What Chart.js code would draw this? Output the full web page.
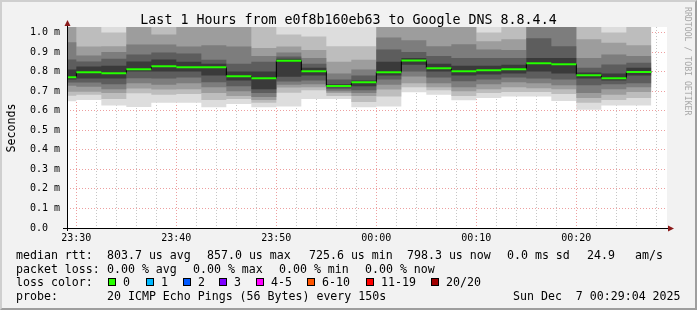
<!DOCTYPE html>
<html><head><meta charset="utf-8">
<script src="https://cdn.jsdelivr.net/npm/chart.js@4.4.1/dist/chart.umd.min.js"></script>
<style>
html,body{margin:0;padding:0;background:#f2f2f2;}
#wrap{position:relative;width:697px;height:310px;overflow:hidden;background:#f2f2f2;font-family:'DejaVu Sans Mono',monospace;color:#000;}
#c{position:absolute;left:0;top:0;}
.t{position:absolute;white-space:pre;font-size:11.6px;line-height:14px;}
.box{position:absolute;width:8px;height:8px;box-sizing:border-box;border:1px solid #000;}
#frame{position:absolute;left:0;top:0;width:697px;height:310px;box-sizing:border-box;border-top:2px solid #cfcfcf;border-left:2px solid #cfcfcf;border-right:2px solid #9e9e9e;border-bottom:2px solid #9e9e9e;pointer-events:none;}
</style></head>
<body>
<div id="wrap">
<canvas id="c" width="697" height="310"></canvas>
<div class="t" style="left:0;width:697px;text-align:center;top:11.5px;font-size:13.3px;line-height:16px;">Last 1 Hours from e0f8b160eb63 to Google DNS 8.8.4.4</div>
<div class="t" style="left:-39.5px;top:121px;width:100px;text-align:center;transform:rotate(-90deg);">Seconds</div>
<div class="t" style="left:638px;top:52px;width:100px;text-align:center;font-size:8.2px;line-height:10px;color:#a6a6a6;transform:rotate(90deg);">RRDTOOL / TOBI OETIKER</div>
<div id="legend"></div>
<div id="frame"></div>
</div>
<script>
// ---- data ----
const intervalStarts = ['23:29:04','23:30:00','23:32:30','23:35:00','23:37:30','23:40:00','23:42:30','23:45:00','23:47:30','23:50:00','23:52:30','23:55:00','23:57:30','00:00:00','00:02:30','00:05:00','00:07:30','00:10:00','00:12:30','00:15:00','00:17:30','00:20:00','00:22:30','00:25:00'];
const intervalEnd = '00:27:30';
const graphStart = '23:29:04';
const graphSpanSec = 3600;
const majorTickLabels = ['23:30','23:40','23:50','00:00','00:10','00:20'];
const yTickValues = [0,0.1,0.2,0.3,0.4,0.5,0.6,0.7,0.8,0.9,1.0];

// median rtt (ms)
const medianRtt = [0.771,0.797,0.791,0.812,0.827,0.822,0.822,0.776,0.766,0.855,0.802,0.726,0.745,0.797,0.857,0.817,0.802,0.807,0.812,0.843,0.838,0.781,0.766,0.798];
// smoke envelopes (ms), outer -> inner
const minRtt = [0.648,0.655,0.626,0.619,0.640,0.640,0.617,0.634,0.617,0.622,0.660,0.660,0.617,0.622,0.694,0.682,0.653,0.665,0.673,0.673,0.650,0.605,0.626,0.626];
const maxRtt = [1.15,1.12,1.10,1.12,1.12,1.12,1.12,1.12,1.10,1.06,1.05,1.10,1.05,1.15,1.15,1.12,1.12,1.06,1.12,1.20,1.20,1.12,1.06,1.12];
const lo1 = [0.677,0.682,0.660,0.689,0.682,0.685,0.655,0.660,0.640,0.692,0.705,0.675,0.645,0.672,0.720,0.705,0.675,0.690,0.695,0.695,0.685,0.640,0.655,0.665];
const hi1 = [1.10,1.06,1.00,1.08,1.05,1.08,1.08,1.08,1.05,0.99,0.98,0.93,0.93,1.10,1.10,1.08,1.08,1.00,1.06,1.15,1.15,1.06,1.00,1.06];
const lo2 = [0.697,0.697,0.690,0.714,0.708,0.710,0.690,0.675,0.655,0.718,0.720,0.690,0.675,0.708,0.740,0.720,0.700,0.710,0.720,0.715,0.710,0.665,0.682,0.695];
const hi2 = [1.05,0.928,0.930,1.04,0.990,1.04,1.04,1.04,0.920,0.928,0.910,0.850,0.860,1.05,1.05,1.04,1.04,0.955,0.965,1.10,1.10,0.965,0.947,0.935];
const lo3 = [0.728,0.723,0.710,0.740,0.733,0.740,0.720,0.700,0.670,0.733,0.735,0.700,0.690,0.733,0.775,0.740,0.720,0.735,0.745,0.740,0.730,0.690,0.710,0.720];
const hi3 = [0.950,0.882,0.900,0.938,0.938,0.928,0.935,0.928,0.880,0.897,0.870,0.790,0.810,0.974,0.960,0.930,0.940,0.913,0.910,1.05,1.05,0.870,0.887,0.880];
const lo4 = [0.744,0.744,0.735,0.766,0.764,0.770,0.745,0.725,0.690,0.749,0.755,0.710,0.705,0.760,0.800,0.770,0.750,0.760,0.770,0.765,0.760,0.730,0.735,0.740];
const hi4 = [0.862,0.851,0.865,0.887,0.897,0.892,0.860,0.840,0.850,0.877,0.840,0.760,0.780,0.913,0.900,0.880,0.870,0.870,0.870,0.970,0.930,0.820,0.836,0.845];
const lo5 = [0.759,0.764,0.765,0.800,0.800,0.800,0.780,0.755,0.710,0.774,0.780,0.720,0.725,0.780,0.835,0.800,0.780,0.785,0.790,0.800,0.790,0.765,0.755,0.780];
const hi5 = [0.810,0.826,0.830,0.851,0.862,0.850,0.840,0.800,0.800,0.865,0.820,0.735,0.755,0.850,0.870,0.840,0.830,0.830,0.835,0.870,0.870,0.795,0.790,0.820];

const smokeColors = ['#dddddd','#bdbdbd','#9d9d9d','#7d7d7d','#5d5d5d','#3a3a3a'];
const lossColors = [['0','#26ff00'],['1','#00b8ff'],['2','#0059ff'],['3','#7e00ff'],['4-5','#ff00ff'],['6-10','#ff5500'],['11-19','#ff0000'],['20/20','#a00000']];

// ---- helpers ----
function hms(s){const p=s.split(':').map(Number);return p[0]*3600+p[1]*60+(p[2]||0);}
const startAbs = hms(graphStart);
function toX(s){let v=hms(s);if(v<startAbs)v+=86400;return v-startAbs;}
const xs = intervalStarts.map(toX);
const xEnd = toX(intervalEnd);

function stepData(vals){const d=vals.map((v,i)=>({x:xs[i],y:v}));d.push({x:xEnd,y:vals[vals.length-1]});return d;}

const majorX = majorTickLabels.map(l=>toX(l+':00'));
const gridTicks=[];
for(let v=majorX[0]; v<=graphSpanSec; v+=120) gridTicks.push(v);

const bands=[[minRtt,maxRtt],[lo1,hi1],[lo2,hi2],[lo3,hi3],[lo4,hi4],[lo5,hi5]];
const datasets=[];
bands.forEach((b,k)=>{
  datasets.push({data:stepData(b[0]),stepped:true,pointRadius:0,borderWidth:1,borderColor:'rgba(0,0,0,0)',fill:false,order:20-k});
  datasets.push({data:stepData(b[1]),stepped:true,pointRadius:0,borderWidth:1,borderColor:'rgba(0,0,0,0)',backgroundColor:smokeColors[k],fill:'-1',order:20-k});
});
datasets.push({data:stepData(medianRtt),stepped:true,pointRadius:0,borderWidth:1,borderColor:'#000',fill:false,order:2});
const greenData=[];
medianRtt.forEach((v,i)=>{const x1=(i+1<xs.length)?xs[i+1]:xEnd;greenData.push({x:xs[i],y:v},{x:x1,y:v},{x:x1,y:null});});
datasets.push({data:greenData,pointRadius:0,borderWidth:2,borderColor:lossColors[0][1],fill:false,spanGaps:false,order:1,borderCapStyle:'butt'});

const decor={id:'decor',
  beforeDraw(ch){const a=ch.chartArea,c=ch.ctx;c.save();c.fillStyle='#ffffff';c.fillRect(a.left,a.top,a.right-a.left,a.bottom-a.top);c.restore();},
  afterDraw(ch){const a=ch.chartArea,c=ch.ctx;c.save();
    c.strokeStyle='#000';c.lineWidth=1;c.beginPath();
    const yb=Math.round(a.bottom)+0.5, xl=Math.round(a.left)+0.5;
    c.moveTo(a.left-4,yb);c.lineTo(a.right+2,yb);
    c.moveTo(xl,a.bottom+3);c.lineTo(xl,a.top-2);c.stroke();
    c.fillStyle='#8b1a1a';
    c.beginPath();c.moveTo(a.right+1,yb-3);c.lineTo(a.right+7,yb);c.lineTo(a.right+1,yb+3);c.closePath();c.fill();
    c.beginPath();c.moveTo(xl-3,a.top-1);c.lineTo(xl,a.top-7);c.lineTo(xl+3,a.top-1);c.closePath();c.fill();
    c.restore();}
};

const FONT='DejaVu Sans Mono';
new Chart(document.getElementById('c'),{
  type:'line',
  data:{datasets},
  options:{
    responsive:false,animation:false,events:[],
    layout:{padding:{left:30,top:27,right:30,bottom:0}},
    plugins:{legend:{display:false},tooltip:{enabled:false},title:{display:false}},
    scales:{
      x:{type:'linear',min:0,max:graphSpanSec,z:1,
        afterBuildTicks:s=>{s.ticks=gridTicks.map(v=>({value:v}));},
        afterFit:s=>{s.height=82;},
        ticks:{autoSkip:false,maxRotation:0,minRotation:0,padding:4,color:'#000',font:{family:FONT,size:10},
          callback:(v)=>{const i=majorX.indexOf(v);return i>=0?majorTickLabels[i]:'';}},
        grid:{drawTicks:false,lineWidth:1,color:(ctx)=>majorX.includes(ctx.tick&&ctx.tick.value)?'rgba(222,80,80,0.55)':'rgba(128,128,128,0.45)'},
        border:{display:false,dash:[1,2]}
      },
      y:{type:'linear',min:0,max:1.028,z:1,
        afterBuildTicks:s=>{s.ticks=yTickValues.map(v=>({value:v}));},
        afterFit:s=>{s.width=37;},
        ticks:{crossAlign:'far',padding:0,color:'#000',font:{family:FONT,size:10},
          callback:(v)=>v===0?'0.0':v.toFixed(1)+' m'},
        grid:{drawTicks:false,lineWidth:1,color:'rgba(222,80,80,0.55)'},
        border:{display:false,dash:[1,2]}
      }
    }
  },
  plugins:[decor]
});

// ---- legend text ----
const L=document.getElementById('legend');
function txt(x,y,s){const d=document.createElement('div');d.className='t';d.style.left=x+'px';d.style.top=y+'px';d.textContent=s;L.appendChild(d);}
const r1=248,r2=261.5,r3=275,r4=289;
txt(16,r1,'median rtt:');txt(107,r1,'803.7 us avg');txt(207,r1,'857.0 us max');txt(309,r1,'725.6 us min');
txt(407,r1,'798.3 us now');txt(507,r1,'0.0 ms sd');txt(587,r1,'24.9');txt(635,r1,'am/s');
txt(16,r2,'packet loss:');txt(107,r2,'0.00 % avg');txt(193,r2,'0.00 % max');txt(279,r2,'0.00 % min');txt(365,r2,'0.00 % now');
txt(16,r3,'loss color:');
const boxX=[108,146,183,219,256,307,366,431];
lossColors.forEach((lc,i)=>{const b=document.createElement('div');b.className='box';b.style.left=boxX[i]+'px';b.style.top='278px';b.style.background=lc[1];L.appendChild(b);txt(boxX[i]+15,r3,lc[0]);});
txt(16,r4,'probe:');txt(107,r4,'20 ICMP Echo Pings (56 Bytes) every 150s');txt(513,r4,'Sun Dec  7 00:29:04 2025');
</script>
</body></html>
